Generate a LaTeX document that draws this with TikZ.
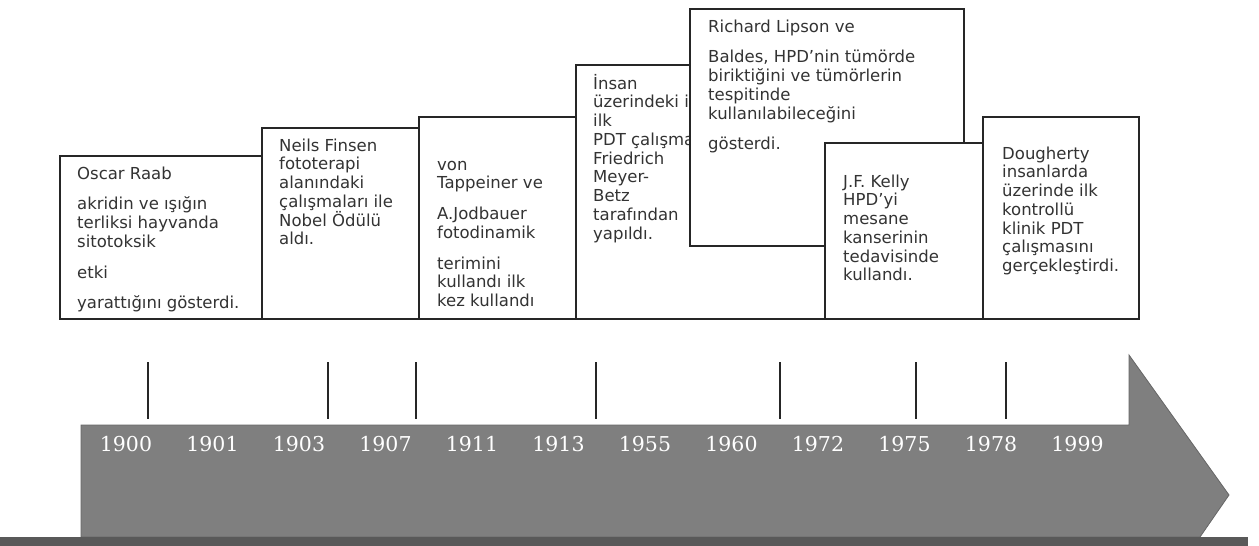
\documentclass[tikz,border=0pt]{standalone}
\usepackage{fontspec}
\setmainfont{DejaVu Sans}
\newfontfamily\yearfont{DejaVu Serif}
\usepackage{xcolor}
\usepackage{tikz}
\definecolor{boxline}{HTML}{262626}
\definecolor{boxtext}{HTML}{333333}
\definecolor{arrowgray}{HTML}{7F7F7F}
\definecolor{bargray}{HTML}{595959}

\begin{document}
\begin{tikzpicture}[
  x=1pt, y=-1pt,
  eventbox/.style={draw=boxline, fill=white, line width=1.5pt,
    anchor=north west, inner sep=0pt},
  eventtext/.style={anchor=base west, align=left, inner sep=0pt,
    text=boxtext, font=\fontsize{16.5}{18.75}\selectfont},
  yearlabel/.style={anchor=base, inner sep=0pt, text=white,
    font=\yearfont\fontsize{20.5}{24}\selectfont},
  tickline/.style={draw=black!85, line width=1.2pt},
  arrowbody/.style={fill=arrowgray, draw=black!60, line width=0.8pt},
  groundbar/.style={fill=bargray, draw=none}
]
\useasboundingbox (0,0) rectangle (1259,546);
% ---------------- timeline arrow ----------------
\draw[arrowbody] (81,537) -- (81,425) -- (1129,425) -- (1129,355)
  -- (1229,495) -- (1200,537) -- cycle;
\fill[groundbar] (0,537) rectangle (1248,546);
\foreach \x in {148,328,416,596,780,916,1006}
  \draw[tickline] (\x,362) -- (\x,419);
\foreach \yr [count=\i from 0] in {1900,1901,1903,1907,1911,1913,1955,1960,1972,1975,1978,1999}
  \node[yearlabel] (yr\yr) at ({126+86.5*\i},451) {\yr};
% ---------------- left events (text placed by its last baseline) ----------------
\node[eventbox, minimum width=202pt, minimum height=163pt] (raab) at (59,155) {};
\node[eventtext] (raabtxt) at (77,308.75) {Oscar Raab\\[12pt]
  akridin ve ışığın\\ terliksi hayvanda\\ sitotoksik\\[12pt]
  etki\\[12pt] yarattığını gösterdi.};
\node[eventbox, minimum width=157pt, minimum height=191pt] (finsen) at (261,127) {};
\node[eventtext] (finsentxt) at (279,244.75) {Neils Finsen\\ fototerapi\\
  alanındaki\\ çalışmaları ile\\ Nobel Ödülü\\ aldı.};
\node[eventbox, minimum width=157pt, minimum height=202pt] (tappeiner) at (418,116) {};
\node[eventtext] (tappeinertxt) at (437,306.5) {von\\ Tappeiner ve\\[12pt]
  A.Jodbauer\\ fotodinamik\\[12pt] terimini\\ kullandı ilk\\ kez kullandı};
% ---------------- overlapping events ----------------
\node[eventbox, minimum width=325pt, minimum height=254pt] (insan) at (575,64) {};
\node[eventtext] (insantxt) at (593,239) {İnsan\\ üzerindeki ilk\\ ilk\\
  PDT çalışması\\ Friedrich\\ Meyer-\\ Betz\\ tarafından\\ yapıldı.};
\node[eventbox, minimum width=274pt, minimum height=237pt] (lipson) at (689,8) {};
\node[eventtext] (lipsontxt) at (708,149.75) {Richard Lipson ve\\[12pt]
  Baldes, HPD’nin tümörde\\ biriktiğini ve tümörlerin\\ tespitinde\\
  kullanılabileceğini\\[12pt] gösterdi.};
\node[eventbox, minimum width=158pt, minimum height=176pt] (kelly) at (824,142) {};
\node[eventtext] (kellytxt) at (843,280.75) {J.F. Kelly\\ HPD’yi\\ mesane\\
  kanserinin\\ tedavisinde\\ kullandı.};
\node[eventbox, minimum width=156pt, minimum height=202pt] (dougherty) at (982,116) {};
\node[eventtext] (doughertytxt) at (1002,271.5) {Dougherty\\ insanlarda\\
  üzerinde ilk\\ kontrollü\\ klinik PDT\\ çalışmasını\\ gerçekleştirdi.};
\end{tikzpicture}
\end{document}
